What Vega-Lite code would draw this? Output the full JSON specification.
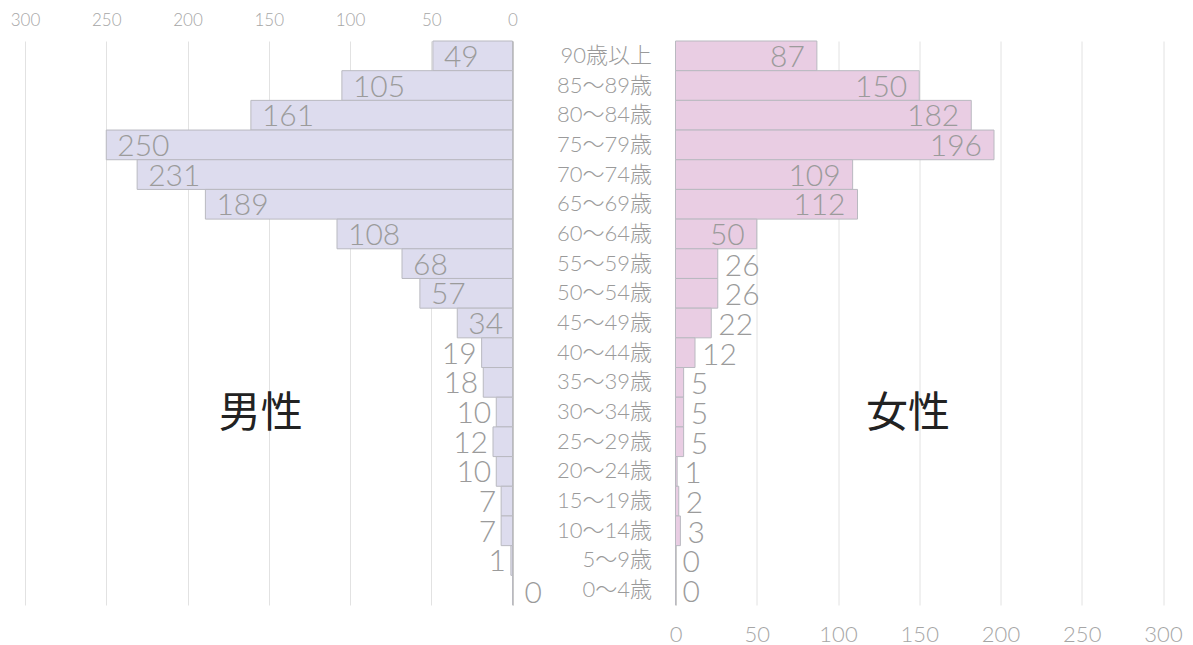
{
  "$schema": "https://vega.github.io/schema/vega-lite/v6.json",
  "padding": {"left": 10, "top": 11, "right": 5, "bottom": 5},
  "background": "#ffffff",
  "bounds": "flush",
  "spacing": 162.5,
  "config": {"view": {"stroke": null}, "font": "Lato"},
  "data": {"values": [
    {"age": "90歳以上", "male": 49, "female": 87},
    {"age": "85～89歳", "male": 105, "female": 150},
    {"age": "80～84歳", "male": 161, "female": 182},
    {"age": "75～79歳", "male": 250, "female": 196},
    {"age": "70～74歳", "male": 231, "female": 109},
    {"age": "65～69歳", "male": 189, "female": 112},
    {"age": "60～64歳", "male": 108, "female": 50},
    {"age": "55～59歳", "male": 68, "female": 26},
    {"age": "50～54歳", "male": 57, "female": 26},
    {"age": "45～49歳", "male": 34, "female": 22},
    {"age": "40～44歳", "male": 19, "female": 12},
    {"age": "35～39歳", "male": 18, "female": 5},
    {"age": "30～34歳", "male": 10, "female": 5},
    {"age": "25～29歳", "male": 12, "female": 5},
    {"age": "20～24歳", "male": 10, "female": 1},
    {"age": "15～19歳", "male": 7, "female": 2},
    {"age": "10～14歳", "male": 7, "female": 3},
    {"age": "5～9歳", "male": 1, "female": 0},
    {"age": "0～4歳", "male": 0, "female": 0}
  ]},
  "hconcat": [
    {
      "width": 487.5,
      "height": 564,
      "encoding": {
        "y": {"field": "age", "type": "nominal", "sort": null,
          "scale": {"paddingInner": 0, "paddingOuter": 0},
          "axis": {"orient": "right", "labels": false, "ticks": false, "title": null, "grid": false, "domainColor": "#bfbfbf", "domainWidth": 1.5}},
        "x": {"field": "male", "type": "quantitative",
          "scale": {"domain": [0, 300], "reverse": true, "nice": false},
          "axis": {"orient": "top", "values": [0, 50, 100, 150, 200, 250, 300], "grid": true, "gridColor": "#e2e2e2", "ticks": false, "domain": false, "labelFlush": false, "labelColor": "#a6a6a6", "labelFontSize": 17, "labelFont": "Lato", "labelFontWeight": 300, "labelPadding": 12, "title": null}}
      },
      "layer": [
        {"mark": {"type": "bar", "fill": "#dddcee", "stroke": "#b9b9c0", "strokeWidth": 1}},
        {"transform": [{"filter": "datum.male >= 30"}],
          "mark": {"type": "text", "align": "left", "baseline": "middle", "dx": 11, "dy": 2, "fontSize": 30, "font": "Lato", "fontWeight": 300, "color": "#9b9b9b"},
          "encoding": {"text": {"field": "male", "type": "quantitative"}}},
        {"transform": [{"filter": "datum.male < 30 && datum.male > 0"}],
          "mark": {"type": "text", "align": "right", "baseline": "middle", "dx": -5, "dy": 2, "fontSize": 30, "font": "Lato", "fontWeight": 300, "color": "#9b9b9b"},
          "encoding": {"text": {"field": "male", "type": "quantitative"}}},
        {"transform": [{"filter": "datum.male == 0"}],
          "mark": {"type": "text", "align": "left", "baseline": "middle", "dx": 12, "dy": 4, "fontSize": 30, "font": "Lato", "fontWeight": 300, "color": "#9b9b9b"},
          "encoding": {"text": {"field": "male", "type": "quantitative"}}},
        {"transform": [{"filter": "datum.age == '30～34歳'"}],
          "mark": {"type": "text", "align": "center", "baseline": "middle", "fontSize": 42, "font": "Noto Sans CJK JP", "color": "#222222", "dy": 2},
          "encoding": {"x": {"datum": 155, "type": "quantitative"}, "text": {"value": "男性"}}}
      ]
    },
    {
      "width": 487.5,
      "height": 564,
      "encoding": {
        "y": {"field": "age", "type": "nominal", "sort": null,
          "scale": {"paddingInner": 0, "paddingOuter": 0},
          "axis": {"orient": "left", "labels": true, "ticks": false, "title": null, "grid": false, "domainColor": "#bfbfbf", "domainWidth": 1.5, "labelAlign": "right", "labelPadding": 24, "labelFontSize": 22, "labelFont": "Lato, 'Noto Sans CJK JP'", "labelFontWeight": 300, "labelColor": "#9a9a9a"}},
        "x": {"field": "female", "type": "quantitative",
          "scale": {"domain": [0, 300], "nice": false},
          "axis": {"orient": "bottom", "values": [0, 50, 100, 150, 200, 250, 300], "grid": true, "gridColor": "#e2e2e2", "ticks": false, "domain": false, "labelFlush": false, "labelColor": "#a6a6a6", "labelFontSize": 22, "labelFont": "Lato", "labelFontWeight": 300, "labelPadding": 19, "title": null}}
      },
      "layer": [
        {"mark": {"type": "bar", "fill": "#e9cde3", "stroke": "#b9b9c0", "strokeWidth": 1}},
        {"transform": [{"filter": "datum.female >= 30"}],
          "mark": {"type": "text", "align": "right", "baseline": "middle", "dx": -12, "dy": 2, "fontSize": 30, "font": "Lato", "fontWeight": 300, "color": "#9b9b9b"},
          "encoding": {"text": {"field": "female", "type": "quantitative"}}},
        {"transform": [{"filter": "datum.female < 30"}],
          "mark": {"type": "text", "align": "left", "baseline": "middle", "dx": 7, "dy": 3, "fontSize": 30, "font": "Lato", "fontWeight": 300, "color": "#9b9b9b"},
          "encoding": {"text": {"field": "female", "type": "quantitative"}}},
        {"transform": [{"filter": "datum.age == '30～34歳'"}],
          "mark": {"type": "text", "align": "center", "baseline": "middle", "fontSize": 42, "font": "Noto Sans CJK JP", "color": "#222222", "dy": 2},
          "encoding": {"x": {"datum": 143, "type": "quantitative"}, "text": {"value": "女性"}}}
      ]
    }
  ]
}
